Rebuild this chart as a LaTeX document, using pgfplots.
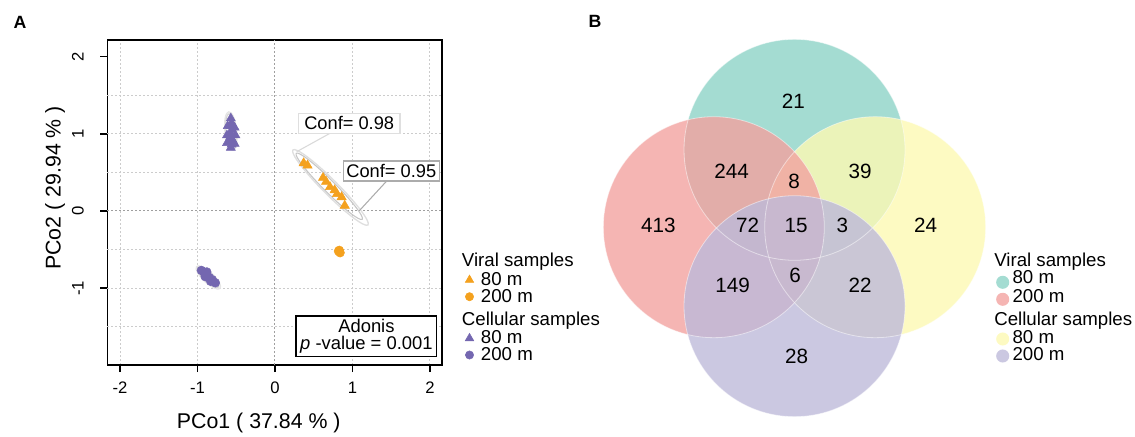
\documentclass[border=0pt]{standalone}
\usepackage{pgfplots}
\pgfplotsset{compat=1.18}
\usepackage{fontspec}
\setmainfont{Liberation Sans}
\definecolor{vor}{HTML}{F4A11E}
\definecolor{cpu}{HTML}{7467B0}
\definecolor{vteal}{HTML}{8DD3C7}
\definecolor{vred}{HTML}{F2A2A0}
\definecolor{vyel}{HTML}{FDF9B3}
\definecolor{vpur}{HTML}{BEBADA}
\newcommand\fs[1]{\fontsize{#1}{#1}\selectfont}

\pgfplotstableread{
x y label
793.3 334.3 21
731.7 264.3 244
794.0 254.3 8
860.0 264.3 39
658.3 210.3 413
747.7 210.3 72
796.0 210.3 15
842.3 210.3 3
925.7 210.3 24
732.7 151.0 149
795.0 161.0 6
860.0 151.0 22
796.7 80.0 28
}\venncounts

\begin{document}
\begin{tikzpicture}[x=0.75pt,y=0.75pt]
\useasboundingbox (0,0) rectangle (1135,436);

% ---------------- Panel A ----------------
\begin{axis}[
  at={(80.475pt,53.25pt)}, anchor=south west,
  width=251pt, height=243.75pt, scale only axis,
  xmin=-2.164, xmax=2.155, ymin=-1.995, ymax=2.215,
  axis line style={line width=1.2pt},
  tick align=outside, major tick length=5.25pt,
  every tick/.style={black, line width=1.2pt},
  xtick pos=left, ytick pos=left,
  xtick={-2,-1,0,1,2}, xticklabels={-2,-1,0,1,2},
  ytick={-1,0,1,2}, yticklabels={-1,0,1,2},
  xmajorgrids=true,
  extra y ticks={-1.5,-1,-0.5,0,0.5,1,1.5}, extra y tick labels={},
  extra y tick style={grid=major, major tick length=0pt},
  grid style={gray!40, line width=0.75pt, dash pattern=on 1.5pt off 1.5pt},
  xticklabel style={font=\fs{12.5}, anchor=base},
  xticklabel shift=16pt,
  yticklabel style={font=\fs{12.5}, rotate=90, anchor=base},
  yticklabel shift=12.5pt,
]
\draw[gray!75, line width=0.75pt, dash pattern=on 1.5pt off 1.5pt] (axis cs:0,-1.995) -- (axis cs:0,2.215);
\draw[gray!75, line width=0.75pt, dash pattern=on 1.5pt off 1.5pt] (axis cs:-2.164,0) -- (axis cs:2.155,0);

% Cellular 80 m
\addplot[only marks, mark=triangle*, mark size=3.9pt, color=cpu] coordinates {
(-0.62,0.98) (-0.62,0.88) (-0.61,1.10) (-0.57,1.20) (-0.56,1.05) (-0.55,0.92)
(-0.52,1.08) (-0.51,0.98) (-0.52,0.87) (-0.57,0.82) (-0.57,1.00) (-0.57,0.90)
(-0.57,1.10) (-0.56,1.14) (-0.58,0.95) (-0.56,0.86)};
% Cellular 200 m
\addplot[only marks, mark=*, mark size=3.3pt, color=cpu] coordinates {
(-0.95,-0.77) (-0.92,-0.79) (-0.88,-0.83) (-0.85,-0.86) (-0.81,-0.89)
(-0.77,-0.93) (-0.88,-0.79) (-0.83,-0.91) (-0.90,-0.85)};
% Viral 80 m
\addplot[only marks, mark=triangle*, mark size=4pt, color=vor] coordinates {
(0.37,0.62) (0.42,0.59) (0.62,0.43) (0.66,0.38) (0.71,0.31) (0.77,0.27)
(0.80,0.22) (0.86,0.18) (0.90,0.07)};
% Viral 200 m
\addplot[only marks, mark=*, mark size=3.3pt, color=vor] coordinates {
(0.82,-0.52) (0.84,-0.54) (0.83,-0.51)};

% confidence ellipses
\draw[gray!25, line width=1pt, rotate around={-45:(axis cs:0.716,0.305)}] (axis cs:0.716,0.305) ellipse [x radius=39.8pt, y radius=5.6pt];
\draw[gray!45, line width=0.8pt, rotate around={-45:(axis cs:0.70,0.32)}] (axis cs:0.70,0.32) ellipse [x radius=35pt, y radius=4.4pt];
\draw[gray!20, line width=1pt, rotate around={96:(axis cs:-0.57,1.036)}] (axis cs:-0.57,1.036) ellipse [x radius=14.5pt, y radius=4.4pt];
\draw[gray!35, line width=0.8pt, rotate around={96:(axis cs:-0.57,1.036)}] (axis cs:-0.57,1.036) ellipse [x radius=13pt, y radius=3.6pt];
\draw[gray!20, line width=1pt, rotate around={-43:(axis cs:-0.86,-0.861)}] (axis cs:-0.86,-0.861) ellipse [x radius=12pt, y radius=4pt];
\draw[gray!35, line width=0.8pt, rotate around={-43:(axis cs:-0.86,-0.861)}] (axis cs:-0.86,-0.861) ellipse [x radius=10.5pt, y radius=3.2pt];
\draw[white!85!gray, line width=0.7pt, rotate around={70:(axis cs:0.83,-0.525)}] (axis cs:0.83,-0.525) ellipse [x radius=2.3pt, y radius=1.2pt];
\end{axis}

% axis titles
\node[anchor=base west, font=\fs{16}, inner sep=0pt] at (176.7,7.7) {PCo1 ( 37.84 \% )};
\node[anchor=base west, rotate=90, font=\fs{16}, inner sep=0pt] at (60.7,166) {PCo2 ( 29.94 \% )};

% Conf labels
\draw[gray!30, line width=0.8pt] (330,302.7) -- (296.7,284.3);
\draw[gray!65, line width=0.8pt] (386.7,255) -- (360,226);
\node[draw=gray!25, line width=0.9pt, fill=white, minimum width=76.3pt, minimum height=15pt, inner sep=0pt, font=\fs{13.7}] at (349.2,312.7) {Conf= 0.98};
\node[draw=gray!65, line width=0.9pt, fill=white, minimum width=72pt, minimum height=15pt, inner sep=0pt, font=\fs{13.7}] at (391.3,265) {Conf= 0.95};

% Adonis box
\draw[black, line width=0.8pt, fill=white] (296,79.3) rectangle (436.7,120);
\node[anchor=base, font=\fs{13.8}, inner sep=0pt] at (366.4,104) {Adonis};
\node[anchor=base, font=\fs{13.8}, inner sep=0pt] at (366.4,86.5) {\textit{p} -value = 0.001};

% panel labels
\node[anchor=base west, font=\bfseries\fs{13.3}, inner sep=0pt] at (13.3,407.5) {A};
\node[anchor=base west, font=\bfseries\fs{13.3}, inner sep=0pt] at (588.3,408.5) {B};

% ---------------- Overlay axis (Venn + legends), pixel units ----------------
\begin{axis}[
  at={(0pt,0pt)}, anchor=south west,
  width=851.25pt, height=327pt, scale only axis,
  xmin=0, xmax=1135, ymin=0, ymax=436,
  hide axis, clip=false,
]
\fill[vteal, opacity=0.8] (axis cs:794.5,286.2) circle [radius=110.5];
\fill[vyel, opacity=0.8] (axis cs:875.2,208.8) circle [radius=110.5];
\fill[vred, opacity=0.8] (axis cs:713.8,208.8) circle [radius=110.5];
\fill[vpur, opacity=0.8] (axis cs:794.5,129.8) circle [radius=110.5];
\draw[white, opacity=0.5, line width=0.6pt] (axis cs:794.5,286.2) circle [radius=110.5];
\draw[white, opacity=0.5, line width=0.6pt] (axis cs:875.2,208.8) circle [radius=110.5];
\draw[white, opacity=0.5, line width=0.6pt] (axis cs:713.8,208.8) circle [radius=110.5];
\draw[white, opacity=0.5, line width=0.6pt] (axis cs:794.5,129.8) circle [radius=110.5];

\addplot[draw=none, mark=none, nodes near coords, point meta=explicit symbolic,
  every node near coord/.append style={anchor=center, font=\fs{15.5}, inner sep=0pt}]
  table[x=x, y=y, meta=label] {\venncounts};

% legend A markers
\addplot[only marks, mark=triangle*, mark size=3.7pt, color=vor] coordinates {(469.5,156)};
\addplot[only marks, mark=*, mark size=3.1pt, color=vor] coordinates {(469.5,139.3)};
\addplot[only marks, mark=triangle*, mark size=3.7pt, color=cpu] coordinates {(469.5,97.7)};
\addplot[only marks, mark=*, mark size=3.1pt, color=cpu] coordinates {(469.5,81)};
% legend B markers
\addplot[only marks, mark=*, mark size=4.9pt, color=vteal, mark options={draw opacity=0, fill opacity=0.8}] coordinates {(1002.7,153.7)};
\addplot[only marks, mark=*, mark size=4.9pt, color=vred, mark options={draw opacity=0, fill opacity=0.8}] coordinates {(1002.7,136.7)};
\addplot[only marks, mark=*, mark size=4.9pt, color=vyel, mark options={draw opacity=0, fill opacity=0.8}] coordinates {(1002.7,97)};
\addplot[only marks, mark=*, mark size=4.9pt, color=vpur, mark options={draw opacity=0, fill opacity=0.8}] coordinates {(1002.7,80)};
\end{axis}

% legend A texts
\begin{scope}[every node/.style={anchor=base west, inner sep=0pt, font=\fs{14}}]
\node at (461.7,170) {Viral samples};
\node at (480.7,151) {80 m};
\node at (480.7,134) {200 m};
\node at (461.7,111) {Cellular samples};
\node at (480.7,93) {80 m};
\node at (480.7,76) {200 m};
% legend B texts
\node at (994,170) {Viral samples};
\node at (1012.3,152) {80 m};
\node at (1012.3,134) {200 m};
\node at (994,111) {Cellular samples};
\node at (1012.3,93) {80 m};
\node at (1012.3,76) {200 m};
\end{scope}
\end{tikzpicture}
\end{document}
